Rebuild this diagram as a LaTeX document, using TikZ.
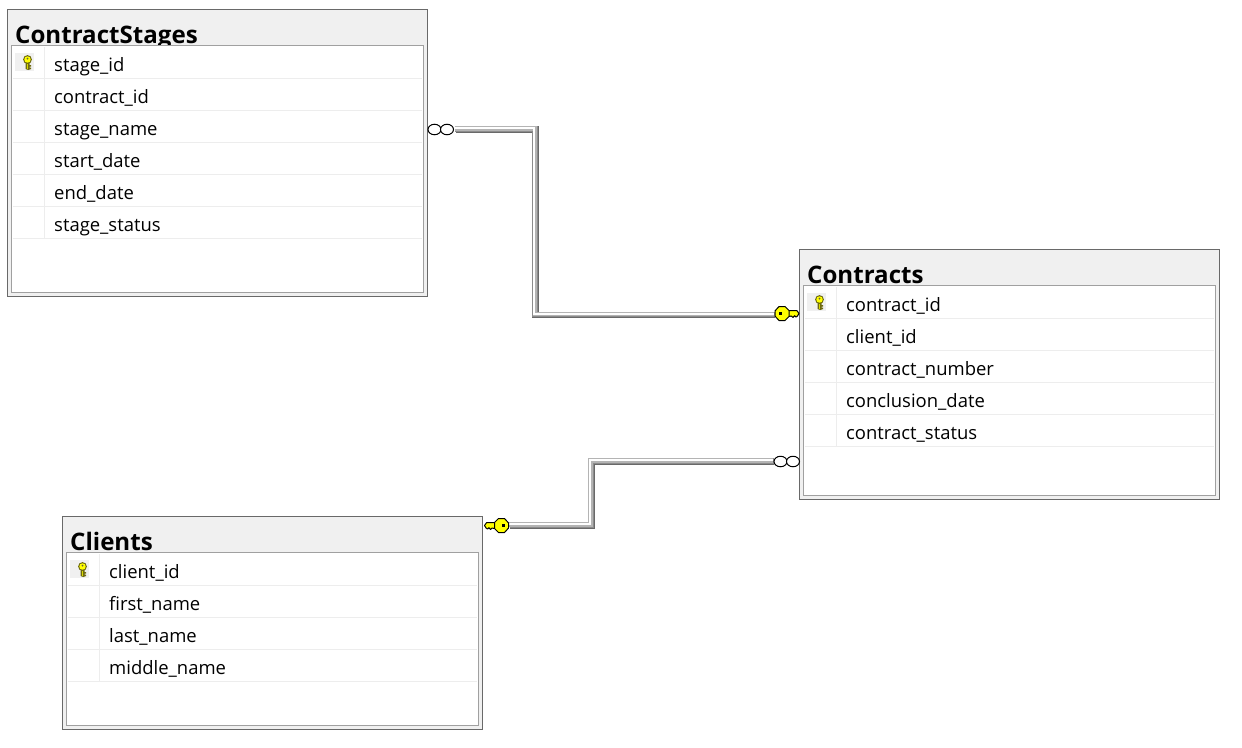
\documentclass[tikz,border=0pt]{standalone}
\usepackage{fontspec}
\setmainfont{Open Sans}
\definecolor{band}{HTML}{F0F0F0}
\definecolor{frameD}{HTML}{696969}
\definecolor{frameL}{HTML}{A0A0A0}
\definecolor{sepc}{HTML}{EDEDED}
\definecolor{keyY}{HTML}{FFFF00}
\definecolor{keyO}{HTML}{6E6A10}
\definecolor{pipeMid}{HTML}{8C8C8C}
\definecolor{pipeLight}{HTML}{B4B4B4}
\tikzset{
  tablebox/.style={draw=frameD,fill=band,line width=1pt,anchor=north west,inner sep=0pt,outer sep=0pt,rectangle},
  innerbox/.style={draw=frameL,fill=white,line width=1pt,anchor=north west,inner sep=0pt,outer sep=0pt,rectangle},
  titletext/.style={anchor=base west,inner sep=0pt,font=\fontsize{24.1}{26}\selectfont\bfseries},
  rowtext/.style={anchor=base west,inner sep=0pt,font=\fontsize{18.45}{22}\selectfont},
  sepline/.style={draw=sepc,line width=1pt},
  keyicon/.style={fill=band,draw=none,anchor=north west,minimum width=19pt,minimum height=18pt,inner sep=0pt},
  pipeD/.style={draw=frameD,line width=6.8pt,line join=miter},
  pipeM/.style={draw=pipeMid,line width=5.6pt,line join=miter},
  pipeL/.style={draw=pipeLight,line width=4.2pt,line join=miter},
  pipeW/.style={draw=white,line width=1.8pt,line join=miter},
  ring/.style={draw=black,fill=white,line width=1pt,ellipse,minimum width=13pt,minimum height=10.5pt,inner sep=0pt},
  bigkey/.style={fill=keyY,draw=black,line width=1pt,line join=round},
}
\usetikzlibrary{shapes.geometric}
\newcommand{\dbtable}[6]{%
  \node[tablebox,minimum width=420pt,minimum height=#4pt] (#1) at (#2-.4,#3-.4) {};
  \node[titletext] (#1-title) at (#2+7,#3+33.5) {#5};
  \node[innerbox,minimum width=412pt,minimum height=#4pt-39.5pt] (#1-inner) at (#2+3.6,#3+35) {};
  \draw[sepline] (#2+36.9,#3+37) -- (#2+36.9,#3+37+32*\numexpr#6\relax);
}
\newcommand{\dbrow}[5]{%
  \draw[sepline] (#2+4.5,#3+68.5+32*#4) -- (#2+414,#3+68.5+32*#4);
  \node[rowtext] (#1-r#4) at (#2+46,#3+61.5+32*#4) {#5};
}
\newcommand{\smallkey}[3]{%
  \node[keyicon] (#1-keybg) at (#2+7,#3+43) {};
  \begin{scope}[shift={(#2+19.5,#3+49.5)}]
    \fill[keyO] (-2,2) -- (2,2) -- (2,5.5) -- (3.6,5.5) -- (3.6,7) -- (2,7) -- (2,8) -- (3.6,8) -- (3.6,9.5) -- (.8,10.5) -- (-2,9.5) -- cycle;
    \fill[keyY!85!black] (-.9,2) rectangle (.7,9);
    \fill[keyO] (0,0) circle (4.4);
    \fill[keyY] (0,0) circle (3.2);
    \fill[black!70!yellow] (0,-.9) circle (1);
  \end{scope}
}
\newcommand{\largekey}[4]{%
  \begin{scope}[shift={(#2,#3)},xscale=#4]
    \path[bigkey] (6,-2.8) -- (15,-2.8) -- (17,0) -- (15.5,2.4) -- (14,3.6) -- (12.5,2.2) -- (11,4) -- (9.5,2.6) -- (6,3) -- cycle;
    \path[bigkey] (-7,-2.6) -- (-3,-7) -- (3,-7) -- (7,-3) -- (7,3) -- (3,7) -- (-3,7) -- (-7,2.6) -- cycle;
    \fill[black] (-3.2,-1.8) rectangle (0,1.4);
  \end{scope}
  \coordinate (#1) at (#2,#3);
}
\newcommand{\pipe}[4]{%
  \draw[pipeD] (#1) -- (#2) -- (#3) -- (#4);
  \draw[pipeM,transform canvas={shift={(-.5pt,.5pt)}}] (#1) -- (#2) -- (#3) -- (#4);
  \draw[pipeL,transform canvas={shift={(-1pt,1pt)}}] (#1) -- (#2) -- (#3) -- (#4);
  \draw[pipeW,transform canvas={shift={(-1.3pt,1.3pt)}}] (#1) -- (#2) -- (#3) -- (#4);
}
\begin{document}
\begin{tikzpicture}[x=1pt,y=-1pt]
\useasboundingbox (0,0) rectangle (1242,747);
\fill[white] (0,0) rectangle (1242,747);

% ContractStages
\dbtable{cs}{8}{10}{287}{ContractStages}{6}
\dbrow{cs}{8}{10}{0}{stage\_id}
\dbrow{cs}{8}{10}{1}{contract\_id}
\dbrow{cs}{8}{10}{2}{stage\_name}
\dbrow{cs}{8}{10}{3}{start\_date}
\dbrow{cs}{8}{10}{4}{end\_date}
\dbrow{cs}{8}{10}{5}{stage\_status}
\smallkey{cs}{8}{10}

% Contracts
\dbtable{co}{800}{250}{250}{Contracts}{5}
\dbrow{co}{800}{250}{0}{contract\_id}
\dbrow{co}{800}{250}{1}{client\_id}
\dbrow{co}{800}{250}{2}{contract\_number}
\dbrow{co}{800}{250}{3}{conclusion\_date}
\dbrow{co}{800}{250}{4}{contract\_status}
\smallkey{co}{800}{250}

% Clients
\dbtable{cl}{63}{517}{213}{Clients}{4}
\dbrow{cl}{63}{517}{0}{client\_id}
\dbrow{cl}{63}{517}{1}{first\_name}
\dbrow{cl}{63}{517}{2}{last\_name}
\dbrow{cl}{63}{517}{3}{middle\_name}
\smallkey{cl}{63}{517}

% Connector 1: ContractStages to Contracts
\coordinate (a1) at (455.5,129.4);
\coordinate (a2) at (535.6,129.4);
\coordinate (a3) at (535.6,315);
\coordinate (a4) at (775,315);
\pipe{a1}{a2}{a3}{a4}
\node[ring] (csr1) at (434.5,129.5) {};
\node[ring] (csr2) at (447,129.5) {};
\largekey{cok}{782}{313.5}{1}

% Connector 2: Clients to Contracts
\coordinate (b1) at (510,525.5);
\coordinate (b2) at (591.5,525.5);
\coordinate (b3) at (591.5,461.5);
\coordinate (b4) at (774,461.5);
\pipe{b1}{b2}{b3}{b4}
\node[ring] (cor1) at (780.5,461.5) {};
\node[ring] (cor2) at (793,461.5) {};
\largekey{clk}{501.5}{525.5}{-1}
\end{tikzpicture}
\end{document}
